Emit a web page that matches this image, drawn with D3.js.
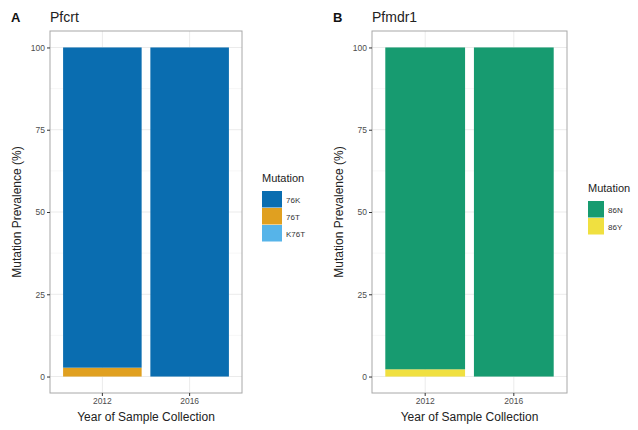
<!DOCTYPE html>
<meta charset="utf-8">
<style>
  body { margin: 0; background: #fff; font-family: "Liberation Sans", Arial, sans-serif; }
  .tick text { fill: #4d4d4d; font-size: 8.5px; }
  .tick line { stroke: #333; }
  .axis path { display: none; }
</style>
<body>
<script src="https://d3js.org/d3.v7.min.js"></script>
<script>

  var years = ["2012", "2016"];
  var yTicks = [0, 25, 50, 75, 100];

  // Pfcrt
  var pfcrtMutations = ["76K", "76T", "K76T"];
  var pfcrtColors = ["#0a6db0", "#e0a020", "#56b4e9"];
  var pfcrt76K = [97.3, 100];
  var pfcrt76T = [2.7, 0];
  var pfcrtK76T = [0, 0];

  // Pfmdr1
  var pfmdrMutations = ["86N", "86Y"];
  var pfmdrColors = ["#179b70", "#f0e040"];
  var pfmdr86N = [97.8, 100];
  var pfmdr86Y = [2.2, 0];

  var svg = d3.select("body").append("svg")
    .attr("width", 638)
    .attr("height", 430);

  function drawPanel(opt) {
    var g = svg.append("g");
    // ggplot style: bar width 0.9, 0.6 units of expansion each side
    var x = d3.scaleBand().domain(years)
      .range([opt.left, opt.right]).paddingInner(0.1).paddingOuter(0.15);
    var y = d3.scaleLinear().domain([-5, 105]).range([opt.bottom, opt.top]);

    // background + grid
    g.append("rect").attr("x", opt.left).attr("y", opt.top)
      .attr("width", opt.right - opt.left).attr("height", opt.bottom - opt.top)
      .attr("fill", "#fff");
    var minor = [12.5, 37.5, 62.5, 87.5];
    g.selectAll(".minor").data(minor).enter().append("line")
      .attr("x1", opt.left).attr("x2", opt.right)
      .attr("y1", function(d) { return y(d); }).attr("y2", function(d) { return y(d); })
      .attr("stroke", "#f2f2f2").attr("stroke-width", 0.6);
    g.selectAll(".major").data(yTicks).enter().append("line")
      .attr("x1", opt.left).attr("x2", opt.right)
      .attr("y1", function(d) { return y(d); }).attr("y2", function(d) { return y(d); })
      .attr("stroke", "#ebebeb").attr("stroke-width", 1);
    g.selectAll(".vmajor").data(years).enter().append("line")
      .attr("x1", function(d) { return x(d) + x.bandwidth() / 2; })
      .attr("x2", function(d) { return x(d) + x.bandwidth() / 2; })
      .attr("y1", opt.top).attr("y2", opt.bottom)
      .attr("stroke", "#ebebeb").attr("stroke-width", 1);

    // stacked bars
    var rows = years.map(function(yr, i) {
      var r = { year: yr };
      opt.keys.forEach(function(k, j) { r[k] = opt.series[j][i]; });
      return r;
    });
    // first key stacked on top, last at the bottom
    var stack = d3.stack().keys(opt.keys.slice().reverse())(rows);
    var color = d3.scaleOrdinal().domain(opt.keys).range(opt.colors);
    stack.forEach(function(layer) {
      g.selectAll(null).data(layer).enter().append("rect")
        .attr("x", function(d) { return x(d.data.year); })
        .attr("width", x.bandwidth())
        .attr("y", function(d) { return y(d[1]); })
        .attr("height", function(d) { return y(d[0]) - y(d[1]); })
        .attr("fill", color(layer.key));
    });

    // border
    g.append("rect").attr("x", opt.left).attr("y", opt.top)
      .attr("width", opt.right - opt.left).attr("height", opt.bottom - opt.top)
      .attr("fill", "none").attr("stroke", "#a8a8a8").attr("stroke-width", 1);

    // axes
    g.append("g").attr("class", "axis")
      .attr("transform", "translate(" + opt.left + ",0)")
      .call(d3.axisLeft(y).tickValues(yTicks).tickSize(3).tickPadding(2));
    g.append("g").attr("class", "axis")
      .attr("transform", "translate(0," + opt.bottom + ")")
      .call(d3.axisBottom(x).tickSize(3).tickPadding(2));

    // titles
    var cx = (opt.left + opt.right) / 2;
    g.append("text").attr("x", cx).attr("y", 421)
      .attr("text-anchor", "middle").attr("font-size", 12).attr("fill", "#222")
      .text("Year of Sample Collection");
    g.append("text")
      .attr("transform", "translate(" + (opt.left - 29) + "," + ((opt.top + opt.bottom) / 2) + ") rotate(-90)")
      .attr("text-anchor", "middle").attr("font-size", 12).attr("fill", "#222")
      .text("Mutation Prevalence (%)");
    g.append("text").attr("x", opt.left - 39).attr("y", 22)
      .attr("font-size", 13).attr("font-weight", "bold").attr("fill", "#111")
      .text(opt.letter);
    g.append("text").attr("x", opt.left).attr("y", 22)
      .attr("font-size", 14).attr("fill", "#222")
      .text(opt.title);

    // legend
    var lg = g.append("g").attr("transform", "translate(" + opt.legX + "," + opt.legY + ")");
    lg.append("text").attr("x", 0).attr("y", 0)
      .attr("font-size", 11).attr("fill", "#222").text("Mutation");
    opt.keys.forEach(function(k, i) {
      lg.append("rect").attr("x", 0).attr("y", 9 + i * 17)
        .attr("width", opt.keyW).attr("height", 16.5).attr("fill", color(k));
      lg.append("text").attr("x", opt.keyW + 4).attr("y", 9 + i * 17 + 11.5)
        .attr("font-size", 8).attr("fill", "#333").text(k);
    });
  }

  drawPanel({
    letter: "A", title: "Pfcrt",
    left: 50, right: 242, top: 31, bottom: 393,
    keys: pfcrtMutations, colors: pfcrtColors,
    series: [pfcrt76K, pfcrt76T, pfcrtK76T],
    legX: 262, legY: 182, keyW: 20
  });

  drawPanel({
    letter: "B", title: "Pfmdr1",
    left: 372, right: 567, top: 31, bottom: 393,
    keys: pfmdrMutations, colors: pfmdrColors,
    series: [pfmdr86N, pfmdr86Y],
    legX: 588, legY: 192, keyW: 16
  });

</script>
</body>
